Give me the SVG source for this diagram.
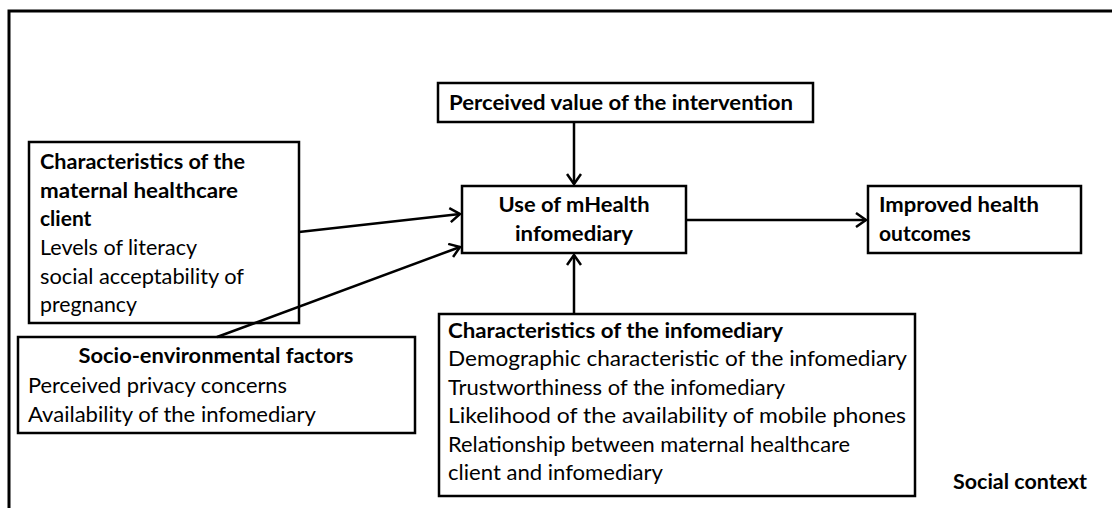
<svg xmlns="http://www.w3.org/2000/svg" width="1112" height="508" viewBox="0 0 1112 508">
<style>
  .box { fill: #fff; stroke: #000; stroke-width: 2.5; }
  .frame { fill: none; stroke: #000; stroke-width: 3; }
  .t { font-family: Lato, "Open Sans", "Liberation Sans", sans-serif; font-size: 21px; fill: #000; }
  .b { font-weight: bold; }
  .c { text-anchor: middle; }
  .conn line { stroke: #000; stroke-width: 2.5; marker-end: url(#arr); }
</style>
<defs>
  <marker id="arr" markerUnits="userSpaceOnUse" markerWidth="14" markerHeight="16" refX="11" refY="8" orient="auto">
    <path d="M1,1 L11,8 L1,15" fill="none" stroke="#000" stroke-width="2.5"/>
  </marker>
</defs>
<rect width="1112" height="508" fill="#fff"/>
<rect class="frame" x="9" y="11" width="1200" height="600"/>

<g id="perceived-value">
  <rect class="box" x="438" y="83" width="375" height="39"/>
  <text class="t b" x="449" y="110" textLength="344" lengthAdjust="spacingAndGlyphs">Perceived value of the intervention</text>
</g>

<g id="use-mhealth">
  <rect class="box" x="462" y="186" width="224" height="67"/>
  <text class="t b c" x="574" y="212" textLength="151" lengthAdjust="spacingAndGlyphs">Use of mHealth</text>
  <text class="t b c" x="574" y="241" textLength="118" lengthAdjust="spacingAndGlyphs">infomediary</text>
</g>

<g id="improved-outcomes">
  <rect class="box" x="868" y="186" width="213" height="67"/>
  <text class="t b" x="879" y="212" textLength="160" lengthAdjust="spacingAndGlyphs">Improved health</text>
  <text class="t b" x="879" y="241">outcomes</text>
</g>

<g id="client-characteristics">
  <rect class="box" x="29" y="142" width="270" height="181"/>
  <text class="t b" x="40" y="169" textLength="205" lengthAdjust="spacingAndGlyphs">Characteristics of the</text>
  <text class="t b" x="40" y="197.5" textLength="198" lengthAdjust="spacingAndGlyphs">maternal healthcare</text>
  <text class="t b" x="40" y="226">client</text>
  <text class="t" x="40" y="255" textLength="157" lengthAdjust="spacingAndGlyphs">Levels of literacy</text>
  <text class="t" x="40" y="283.5" textLength="204" lengthAdjust="spacingAndGlyphs">social acceptability of</text>
  <text class="t" x="40" y="312" textLength="97" lengthAdjust="spacingAndGlyphs">pregnancy</text>
</g>

<g id="socio-environmental">
  <rect class="box" x="18" y="337" width="397" height="96"/>
  <text class="t b c" x="216" y="363" textLength="275" lengthAdjust="spacingAndGlyphs">Socio-environmental factors</text>
  <text class="t" x="28" y="393" textLength="259" lengthAdjust="spacingAndGlyphs">Perceived privacy concerns</text>
  <text class="t" x="28" y="422" textLength="288" lengthAdjust="spacingAndGlyphs">Availability of the infomediary</text>
</g>

<g id="infomediary-characteristics">
  <rect class="box" x="439" y="314" width="476" height="182"/>
  <text class="t b" x="448" y="338" textLength="335" lengthAdjust="spacingAndGlyphs">Characteristics of the infomediary</text>
  <text class="t" x="448" y="366" textLength="459" lengthAdjust="spacingAndGlyphs">Demographic characteristic of the infomediary</text>
  <text class="t" x="448" y="395" textLength="337" lengthAdjust="spacingAndGlyphs">Trustworthiness of the infomediary</text>
  <text class="t" x="448" y="423" textLength="458" lengthAdjust="spacingAndGlyphs">Likelihood of the availability of mobile phones</text>
  <text class="t" x="448" y="452" textLength="402" lengthAdjust="spacingAndGlyphs">Relationship between maternal healthcare</text>
  <text class="t" x="448" y="480" textLength="215" lengthAdjust="spacingAndGlyphs">client and infomediary</text>
</g>

<g id="social-context">
  <text class="t b" x="953" y="489" textLength="134" lengthAdjust="spacingAndGlyphs">Social context</text>
</g>

<g id="connectors" class="conn">
  <line x1="574" y1="122" x2="574" y2="184"/>
  <line x1="574" y1="314" x2="574" y2="255"/>
  <line x1="686" y1="220" x2="866" y2="220"/>
  <line x1="299" y1="232" x2="460" y2="214"/>
  <line x1="217" y1="337" x2="460" y2="247"/>
</g>
</svg>
